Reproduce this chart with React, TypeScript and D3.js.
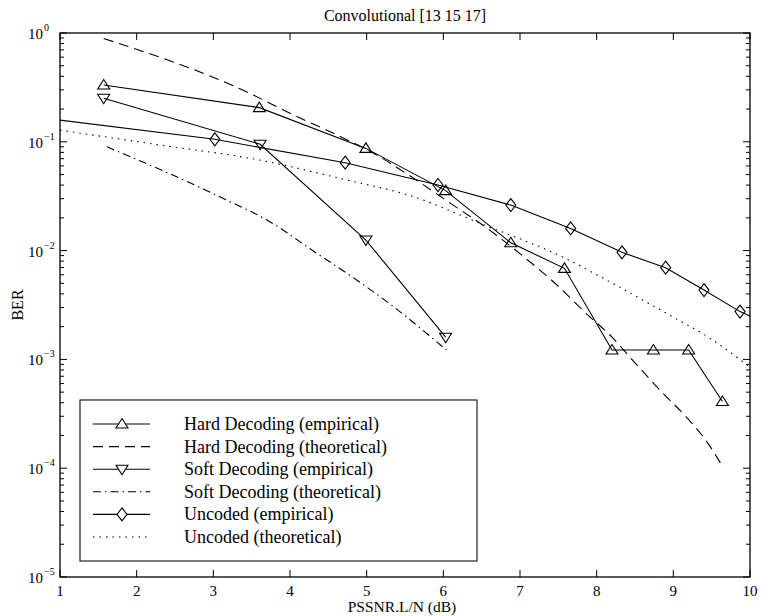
import React, { useEffect, useRef } from 'react';
import * as d3 from 'd3';

// values (x in dB, BER)
const hardEmpX = [1.57, 3.6, 4.99, 6.03, 6.88, 7.58, 8.2, 8.74, 9.2, 9.64];
const hardEmpBer = [0.333, 0.206, 0.087, 0.0356, 0.0118, 0.00687, 0.00122, 0.00122, 0.00122, 0.00041];

const hardTheoX = [1.57, 3.43, 4.0, 4.7, 5.13, 5.5, 6.1, 6.6, 7.1, 7.5, 7.85, 8.2, 8.5, 8.85, 9.2, 9.45, 9.63];
const hardTheoBer = [0.89, 0.289, 0.183, 0.108, 0.0757, 0.052, 0.027, 0.0155, 0.0082, 0.0047, 0.0027, 0.0016, 0.00093, 0.0005, 0.00028, 0.00017, 0.000107];

const softEmpX = [1.57, 3.61, 4.99, 6.03];
const softEmpBer = [0.251, 0.095, 0.0125, 0.0016];

const softTheoX = [1.61, 2.87, 3.17, 3.7, 4.35, 4.87, 5.35, 5.78, 6.04];
const softTheoBer = [0.09, 0.0368, 0.0292, 0.0191, 0.00944, 0.00537, 0.00305, 0.00174, 0.00122];

// first and last points sit outside the axes and get clipped, like the original
const uncodedEmpX = [0.7, 3.02, 4.72, 5.93, 6.88, 7.66, 8.33, 8.9, 9.4, 9.87, 10.3];
const uncodedEmpBer = [0.168, 0.1054, 0.0643, 0.0401, 0.0262, 0.016, 0.00964, 0.00697, 0.00434, 0.00275, 0.002];

const uncodedTheoX = [1.0, 2.3, 3.6, 4.74, 5.61, 6.48, 7.59, 8.04, 8.91, 9.48, 10.0];
const uncodedTheoBer = [0.128, 0.0935, 0.068, 0.0446, 0.0313, 0.0178, 0.0085, 0.0058, 0.00265, 0.00156, 0.00085];

const xTicks = [1, 2, 3, 4, 5, 6, 7, 8, 9, 10];
const yDecades = [0, -1, -2, -3, -4, -5];

const W = 761;
const H = 616;
const FONT = '"Liberation Serif", "Times New Roman", Times, serif';

type Marker = 'up' | 'down' | 'diamond' | null;

const markerPath = (m: Marker, cx: number, cy: number) => {
  if (m === 'up') return `M${cx},${cy - 5.5}L${cx + 6},${cy + 4}L${cx - 6},${cy + 4}Z`;
  if (m === 'down') return `M${cx},${cy + 5.5}L${cx + 6},${cy - 4}L${cx - 6},${cy - 4}Z`;
  if (m === 'diamond') return `M${cx},${cy - 6.5}L${cx + 5},${cy}L${cx},${cy + 6.5}L${cx - 5},${cy}Z`;
  return '';
};

export default function App() {
  const svgRef = useRef<SVGSVGElement>(null);

  useEffect(() => {
    const svg = d3.select(svgRef.current);
    svg.selectAll('*').remove();

    const left = 60, right = 750, top = 33, bottom = 577;
    const x = d3.scaleLinear().domain([1, 10]).range([left, right]);
    const y = d3.scaleLog().domain([1e-5, 1]).range([bottom, top]);

    const series = [
      { label: 'Hard Decoding (empirical)', xs: hardEmpX, ys: hardEmpBer, dash: null, marker: 'up' as Marker, smooth: false },
      { label: 'Hard Decoding (theoretical)', xs: hardTheoX, ys: hardTheoBer, dash: '10,6', marker: null, smooth: true },
      { label: 'Soft Decoding (empirical)', xs: softEmpX, ys: softEmpBer, dash: null, marker: 'down' as Marker, smooth: false },
      { label: 'Soft Decoding (theoretical)', xs: softTheoX, ys: softTheoBer, dash: '8,4,1.5,4', marker: null, smooth: true },
      { label: 'Uncoded (empirical)', xs: uncodedEmpX, ys: uncodedEmpBer, dash: null, marker: 'diamond' as Marker, smooth: false },
      { label: 'Uncoded (theoretical)', xs: uncodedTheoX, ys: uncodedTheoBer, dash: '1.5,5', marker: null, smooth: true },
    ];

    svg.append('rect').attr('width', W).attr('height', H).attr('fill', '#fff');

    svg.append('defs').append('clipPath').attr('id', 'plotClip')
      .append('rect')
      .attr('x', left).attr('y', top)
      .attr('width', right - left).attr('height', bottom - top);

    // ticks: x major (bottom + top), y decades + minor (left + right)
    const tickG = svg.append('g').attr('stroke', '#000').attr('stroke-width', 1);
    xTicks.forEach(t => {
      const px = x(t);
      tickG.append('line').attr('x1', px).attr('x2', px).attr('y1', bottom).attr('y2', bottom - 7);
      tickG.append('line').attr('x1', px).attr('x2', px).attr('y1', top).attr('y2', top + 7);
    });
    y.ticks().forEach(t => {
      const py = y(t);
      const major = Math.abs(Math.log10(t) - Math.round(Math.log10(t))) < 1e-9;
      const len = major ? 7 : 4;
      tickG.append('line').attr('x1', left).attr('x2', left + len).attr('y1', py).attr('y2', py);
      tickG.append('line').attr('x1', right).attr('x2', right - len).attr('y1', py).attr('y2', py);
    });

    // tick labels
    const labG = svg.append('g').style('font-family', FONT).attr('fill', '#000');
    xTicks.forEach(t => {
      labG.append('text')
        .attr('x', x(t)).attr('y', 596)
        .attr('text-anchor', 'middle')
        .style('font-size', '15px')
        .text(String(t));
    });
    yDecades.forEach(e => {
      const txt = labG.append('text')
        .attr('x', 28).attr('y', y(Math.pow(10, e)) + 6)
        .style('font-size', '15px');
      txt.append('tspan').text('10');
      txt.append('tspan')
        .attr('dy', -8)
        .attr('dx', 1)
        .style('font-size', '10px')
        .text(e === 0 ? '0' : '\u2212' + Math.abs(e));
    });

    // axis titles
    labG.append('text')
      .attr('x', (left + right) / 2).attr('y', 21)
      .attr('text-anchor', 'middle')
      .style('font-size', '16px')
      .text('Convolutional [13 15 17]');
    labG.append('text')
      .attr('x', (left + right) / 2 - 3).attr('y', 612)
      .attr('text-anchor', 'middle')
      .style('font-size', '15.5px')
      .text('PSSNR.L/N (dB)');
    labG.append('text')
      .attr('transform', `translate(23, ${(top + bottom) / 2}) rotate(-90)`)
      .attr('text-anchor', 'middle')
      .style('font-size', '16px')
      .text('BER');

    // series
    const plot = svg.append('g').attr('clip-path', 'url(#plotClip)');
    series.forEach(s => {
      const pts = s.xs.map((v, i) => [v, s.ys[i]] as [number, number]);
      const line = d3.line<[number, number]>()
        .x(d => x(d[0]))
        .y(d => y(d[1]))
        .curve(s.smooth ? d3.curveMonotoneX : d3.curveLinear);
      plot.append('path')
        .datum(pts)
        .attr('fill', 'none')
        .attr('stroke', '#000')
        .attr('stroke-width', 1.1)
        .attr('stroke-dasharray', s.dash)
        .attr('d', line);
      if (s.marker) {
        plot.selectAll(null)
          .data(pts)
          .enter().append('path')
          .attr('d', d => markerPath(s.marker, x(d[0]), y(d[1])))
          .attr('fill', 'none')
          .attr('stroke', '#000')
          .attr('stroke-width', 1.1);
      }
    });

    // frame
    svg.append('rect')
      .attr('x', left).attr('y', top)
      .attr('width', right - left).attr('height', bottom - top)
      .attr('fill', 'none').attr('stroke', '#000').attr('stroke-width', 1.3);

    // legend
    const lg = svg.append('g');
    lg.append('rect')
      .attr('x', 80).attr('y', 400).attr('width', 397).attr('height', 161)
      .attr('fill', '#fff').attr('stroke', '#222').attr('stroke-width', 1.2);
    series.forEach((s, i) => {
      const cy = 424 + i * 22.6;
      lg.append('line')
        .attr('x1', 93).attr('x2', 150).attr('y1', cy).attr('y2', cy)
        .attr('stroke', '#000').attr('stroke-width', 1.1)
        .attr('stroke-dasharray', s.dash);
      if (s.marker) {
        lg.append('path')
          .attr('d', markerPath(s.marker, 122, cy))
          .attr('fill', '#fff').attr('stroke', '#000').attr('stroke-width', 1.1);
      }
      lg.append('text')
        .attr('x', 184).attr('y', cy + 6)
        .style('font-family', FONT).style('font-size', '18px')
        .text(s.label);
    });
  }, []);

  return (
    <svg
      ref={svgRef}
      width={W}
      height={H}
      style={{ position: 'absolute', left: 0, top: 0, display: 'block' }}
    />
  );
}
